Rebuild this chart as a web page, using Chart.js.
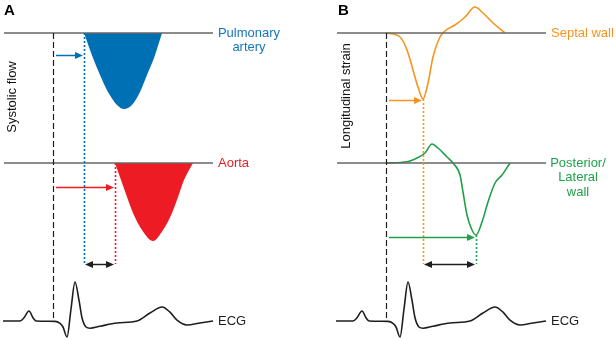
<!DOCTYPE html>
<html><head><meta charset="utf-8">
<script src="https://cdn.jsdelivr.net/npm/chart.js@4.4.1/dist/chart.umd.min.js"></script>
<style>
html,body{margin:0;padding:0;background:#fff;}
#wrap{position:relative;width:616px;height:340px;overflow:hidden;background:#fff;}
canvas{position:absolute;top:0;}
#cA{left:0;} #cB{left:308px;}
</style></head><body>
<div id="wrap"><canvas id="cA" width="308" height="340"></canvas><canvas id="cB" width="308" height="340"></canvas></div>
<script>
// ---------- DATA (time in ms from QRS onset) ----------
const ecgTime = [-200,-132,-116,-96,-80,-68,8,28,40,56,72,88,104,116,132,148,188,256,336,388,436,468,496,536,588,640];
const ecgMv   = [0,0,0.08,0.25,0.08,0,-0.01,-0.06,-0.15,-0.4,0.3,0.975,0.52,0.08,-0.15,-0.18,-0.13,-0.05,0,0.2,0.35,0.22,0.02,-0.1,-0.05,0];

const paTime = [124,160,188,220,256,284,316,348,376,404,436];
const paVel  = [0,-0.25,-0.42,-0.59,-0.72,-0.76,-0.72,-0.59,-0.42,-0.25,0];

const aoTime = [248,272,296,320,356,400,440,476,500,524,560];
const aoVel  = [0,-0.17,-0.34,-0.50,-0.67,-0.78,-0.67,-0.50,-0.34,-0.17,0];

const septTime   = [0,56,84,108,128,148,168,188,216,236,276,316,356,388,428,476];
const septStrain = [0,-1,-4.25,-9.25,-13.5,-16.5,-12.5,-6,-1,0.5,2,4,6.5,5,2.5,0];

const postTime   = [0,84,124,156,184,208,244,268,296,308,324,344,360,384,408,436,464,496];
const postStrain = [0,0.3,1.25,2.5,4.75,3.75,1.5,0,-3,-7.25,-13,-16.75,-18,-14.75,-9.75,-5,-3,0];

const baselineSpan = [-196, 640];
const qrsOnset = 0;
const paOnset = 124;
const aoOnset = 248;
const septPeakTime = 148;
const postPeakTime = 360;

const panelLetters = ['A', 'B'];
const panelAxisTitles = ['Systolic flow', 'Longitudinal strain'];
const labelsA = [['Pulmonary','artery'], ['Aorta'], ['ECG']];
const labelsB = [['Septal wall'], ['Posterior/','Lateral','wall'], ['ECG']];

// ---------- STYLE ----------
const C = { blue:'#0070b5', blueText:'#1576bf', red:'#ed1c24', orange:'#f7941d', green:'#1fa049', gray:'#666666', black:'#1e1e1e' };
const FONT = '"Liberation Sans", Arial, Helvetica, sans-serif';

const pts = (xs, ys) => xs.map((t, i) => ({ x: t, y: ys[i] }));

const schematic = {
  id: 'schematic',
  afterDatasetsDraw(chart, args, o) {
    const ctx = chart.ctx;
    const X = t => chart.scales.x.getPixelForValue(t);
    const Y = (a) => chart.scales[a[0]].getPixelForValue(a[1]);
    (o.verticals || []).forEach(v => {
      ctx.save();
      ctx.strokeStyle = v.color; ctx.lineWidth = v.width; ctx.setLineDash(v.dash);
      const px = Math.round(X(v.t)) + 0.5;
      ctx.beginPath(); ctx.moveTo(px, Y(v.from)); ctx.lineTo(px, Y(v.to)); ctx.stroke();
      ctx.restore();
    });
    const head = (x, y, dir, color) => {
      ctx.beginPath();
      ctx.moveTo(x, y);
      ctx.lineTo(x - dir * 8, y - 3.5);
      ctx.lineTo(x - dir * 8, y + 3.5);
      ctx.closePath();
      ctx.fillStyle = color; ctx.fill();
    };
    (o.arrows || []).forEach(a => {
      const y = Math.round(Y(a.level)) + 0.5;
      const x1 = X(a.from) + (a.double ? 1 : 3), x2 = X(a.to) - 1;
      ctx.save();
      ctx.strokeStyle = a.color; ctx.lineWidth = 1.5; ctx.setLineDash([]);
      ctx.beginPath();
      ctx.moveTo(a.double ? x1 + 6 : x1, y); ctx.lineTo(x2 - 6, y); ctx.stroke();
      head(x2, y, 1, a.color);
      if (a.double) head(x1, y, -1, a.color);
      ctx.restore();
    });
    (o.trackLabels || []).forEach(l => {
      ctx.save();
      ctx.font = '13px ' + FONT; ctx.fillStyle = l.color;
      ctx.textAlign = l.align; ctx.textBaseline = 'middle';
      const x0 = X(baselineSpan[1]) + l.dx, y0 = Y([l.axis, 0]);
      l.lines.forEach((s, i) => ctx.fillText(s, x0, y0 + i * 14.5));
      ctx.restore();
    });
    (o.texts || []).forEach(t => {
      ctx.save();
      ctx.font = t.font; ctx.fillStyle = t.color || '#000';
      ctx.translate(t.x, t.y);
      if (t.rotate) ctx.rotate(-Math.PI / 2);
      ctx.textAlign = t.align; ctx.textBaseline = 'middle';
      ctx.fillText(t.text, 0, 0);
      ctx.restore();
    });
  }
};

function baseline(axis) {
  return { data: pts(baselineSpan, [0, 0]), yAxisID: axis, borderColor: C.gray, borderWidth: 1.7, fill: false, cubicInterpolationMode: 'default', tension: 0 };
}

function makeChart(id, cfg) {
  return new Chart(document.getElementById(id), {
    type: 'line',
    data: { datasets: cfg.datasets },
    options: {
      responsive: false, animation: false, events: [],
      layout: { padding: 0 },
      elements: { point: { radius: 0 }, line: { cubicInterpolationMode: 'monotone' } },
      plugins: { legend: { display: false }, tooltip: { enabled: false }, title: { display: false }, schematic: cfg.annot },
      scales: Object.assign({ x: { type: 'linear', min: cfg.xRange[0], max: cfg.xRange[1], display: false } }, cfg.yScales)
    },
    plugins: [schematic]
  });
}

const intervalLevel = ['yEcg', 1.425];

// ---------- PANEL A ----------
makeChart('cA', {
  xRange: [-212, 1020],
  yScales: {
    yTop: { type: 'linear', min: -3.07, max: 0.33, display: false },
    yBot: { type: 'linear', min: -1.77, max: 1.63, display: false },
    yEcg: { type: 'linear', min: -0.475, max: 8.025, display: false }
  },
  datasets: [
    baseline('yTop'), baseline('yBot'),
    { data: pts(paTime, paVel), yAxisID: 'yTop', borderWidth: 0, borderColor: C.blue, backgroundColor: C.blue, fill: 'origin' },
    { data: pts(aoTime, aoVel), yAxisID: 'yBot', borderWidth: 0, borderColor: C.red, backgroundColor: C.red, fill: 'origin' },
    { data: pts(ecgTime, ecgMv), yAxisID: 'yEcg', borderColor: C.black, borderWidth: 1.6, fill: false }
  ],
  annot: {
    verticals: [
      { t: qrsOnset, from: ['yTop', 0], to: ['yEcg', 0], color: C.black, width: 1.2, dash: [6, 3] },
      { t: paOnset, from: ['yTop', 0], to: intervalLevel, color: C.blue, width: 1.6, dash: [2, 2] },
      { t: aoOnset, from: ['yBot', 0], to: intervalLevel, color: C.red, width: 1.6, dash: [2, 2] }
    ],
    arrows: [
      { from: qrsOnset, to: paOnset, level: ['yTop', -0.22], color: C.blue },
      { from: qrsOnset, to: aoOnset, level: ['yBot', -0.24], color: C.red },
      { from: paOnset, to: aoOnset, level: intervalLevel, color: C.black, double: true }
    ],
    trackLabels: [
      { lines: labelsA[0], axis: 'yTop', dx: 36, align: 'center', color: C.blueText },
      { lines: labelsA[1], axis: 'yBot', dx: 5, align: 'left', color: C.red },
      { lines: labelsA[2], axis: 'yEcg', dx: 5, align: 'left', color: C.black }
    ],
    texts: [
      { text: panelLetters[0], x: 4, y: 11, font: 'bold 15px ' + FONT, align: 'left' },
      { text: panelAxisTitles[0], x: 12, y: 97, font: '13px ' + FONT, align: 'center', rotate: true, color: '#111' }
    ]
  }
});

// ---------- PANEL B ----------
makeChart('cB', {
  xRange: [-312, 920],
  yScales: {
    yTop: { type: 'linear', min: -76.75, max: 8.25, display: false },
    yBot: { type: 'linear', min: -44.25, max: 40.75, display: false },
    yEcg: { type: 'linear', min: -0.475, max: 8.025, display: false }
  },
  datasets: [
    baseline('yTop'), baseline('yBot'),
    { data: pts(septTime, septStrain), yAxisID: 'yTop', borderColor: C.orange, borderWidth: 1.6, fill: false },
    { data: pts(postTime, postStrain), yAxisID: 'yBot', borderColor: C.green, borderWidth: 1.6, fill: false },
    { data: pts(ecgTime, ecgMv), yAxisID: 'yEcg', borderColor: C.black, borderWidth: 1.6, fill: false }
  ],
  annot: {
    verticals: [
      { t: qrsOnset, from: ['yTop', 0], to: ['yEcg', 0], color: C.black, width: 1.2, dash: [6, 3] },
      { t: septPeakTime, from: ['yTop', Math.min(...septStrain)], to: intervalLevel, color: C.orange, width: 1.6, dash: [2, 2] },
      { t: postPeakTime, from: ['yBot', Math.min(...postStrain)], to: intervalLevel, color: C.green, width: 1.6, dash: [2, 2] }
    ],
    arrows: [
      { from: qrsOnset, to: septPeakTime, level: ['yTop', -16.75], color: C.orange },
      { from: qrsOnset, to: postPeakTime, level: ['yBot', -18.5], color: C.green },
      { from: septPeakTime, to: postPeakTime, level: intervalLevel, color: C.black, double: true }
    ],
    trackLabels: [
      { lines: labelsB[0], axis: 'yTop', dx: 5, align: 'left', color: C.orange },
      { lines: labelsB[1], axis: 'yBot', dx: 32, align: 'center', color: C.green },
      { lines: labelsB[2], axis: 'yEcg', dx: 5, align: 'left', color: C.black }
    ],
    texts: [
      { text: panelLetters[1], x: 30, y: 11, font: 'bold 15px ' + FONT, align: 'left' },
      { text: panelAxisTitles[1], x: 38, y: 96, font: '13px ' + FONT, align: 'center', rotate: true, color: '#111' }
    ]
  }
});
</script>
</body></html>
